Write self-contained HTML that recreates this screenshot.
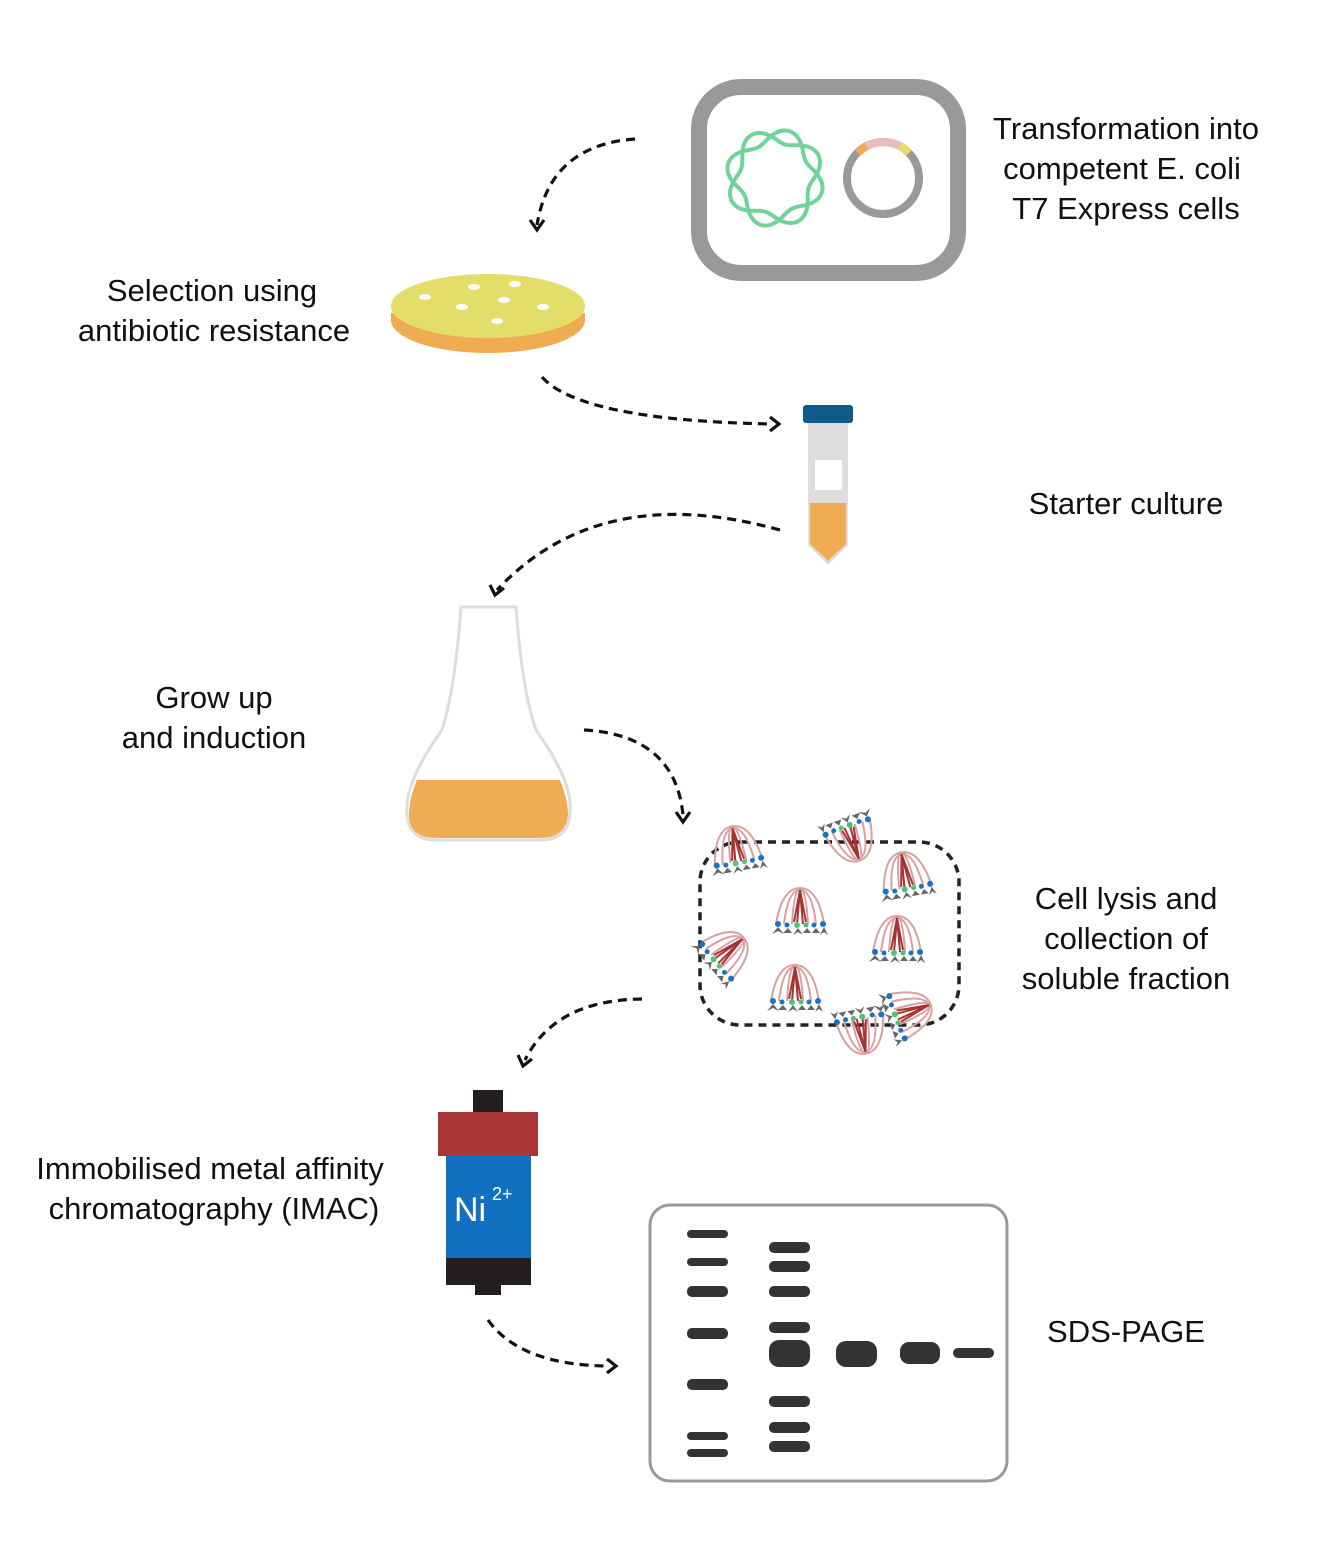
<!DOCTYPE html>
<html><head><meta charset="utf-8"><style>
body{margin:0;background:#fff}
svg{display:block}
text{font-family:"Liberation Sans",sans-serif;font-size:31px;fill:#111}
.d{fill:none;stroke:#111;stroke-width:3.2;stroke-dasharray:9 6}
.h{fill:none;stroke:#111;stroke-width:3.2}
.b{fill:#333}
</style></head><body>
<svg width="1326" height="1545" viewBox="0 0 1326 1545" xmlns="http://www.w3.org/2000/svg">
<defs>
<g id="p">
<path d="M-24 14 Q-18 -22 0 -22 Q18 -22 24 14 M-16 14 Q-12 -20 0 -20 Q12 -20 16 14 M-8 14 Q-6 -20 0 -22 Q6 -20 8 14" fill="none" stroke="#d9a0a0" stroke-width="2"/>
<path d="M-3 14 L0 -20 L3 14 M-6 12 L0 -20 L6 12" fill="none" stroke="#a83232" stroke-width="2"/>
<circle cx="-22" cy="14" r="3" fill="#1a73c4"/><circle cx="-13" cy="15" r="2.5" fill="#1a73c4"/><circle cx="-3" cy="15" r="3" fill="#4cc27a"/><circle cx="6" cy="15" r="2.5" fill="#4cc27a"/><circle cx="14" cy="15" r="2.5" fill="#1a73c4"/><circle cx="23" cy="14" r="3" fill="#1a73c4"/>
<path d="M-28 24 L-22 17 L-16 24 L-22 21Z M-17 23 L-12 18 L-8 23Z M-7 25 L-2 18 L3 25 L-2 22Z M3 23 L7 18 L11 23Z M12 23 L16 18 L20 23Z M20 25 L24 17 L28 25 L24 22Z" fill="#666"/>
</g>
</defs>

<rect x="699" y="87" width="259" height="186" rx="42" fill="none" stroke="#999" stroke-width="16"/>
<path id="fl1" fill="none" stroke="#72d39a" stroke-width="4"/>
<path id="fl2" fill="none" stroke="#72d39a" stroke-width="4"/>
<circle cx="883" cy="178" r="36" fill="none" stroke="#999" stroke-width="8"/>
<path d="M861 150 A36 36 0 0 1 907 151" fill="none" stroke="#e8bcbc" stroke-width="8"/>
<path d="M858 153 A36 36 0 0 1 866 146" fill="none" stroke="#f0ac52" stroke-width="8"/>
<path d="M900 146 A36 36 0 0 1 909 153" fill="none" stroke="#e3dd6a" stroke-width="8"/>
<text x="1126" y="139" text-anchor="middle">Transformation into</text>
<text x="1122" y="179" text-anchor="middle">competent E. coli</text>
<text x="1126" y="219" text-anchor="middle">T7 Express cells</text>

<path class="d" d="M635 139 Q550 145 537 225"/><path class="h" d="M530 220 L537 230 L544 220"/>

<path d="M391 313 L391 320 A97 33 0 0 0 585 320 L585 313Z" fill="#f0ac52"/>
<ellipse cx="488" cy="306" rx="97" ry="32" fill="#e3dd6a"/>
<g fill="#fff"><ellipse cx="425" cy="297" rx="6" ry="3"/><ellipse cx="474" cy="287" rx="6" ry="3"/><ellipse cx="515" cy="284" rx="6" ry="3"/><ellipse cx="504" cy="300" rx="6" ry="3"/><ellipse cx="462" cy="307" rx="6" ry="3"/><ellipse cx="543" cy="307" rx="6" ry="3"/><ellipse cx="497" cy="321" rx="6" ry="3"/></g>
<text x="212" y="301" text-anchor="middle">Selection using</text>
<text x="214" y="341" text-anchor="middle">antibiotic resistance</text>

<path class="d" d="M542 377 Q580 420 770 424"/><path class="h" d="M770 417 L779 424 L770 431"/>

<path d="M808 420 L848 420 L848 545 L828 565 L808 545Z" fill="#ddd"/>
<path d="M810 503 L846 503 L846 544 L828 561 L810 544Z" fill="#f0ac52"/>
<rect x="815" y="460" width="27" height="30" fill="#fff"/>
<rect x="803" y="405" width="50" height="18" rx="3" fill="#0e5a8a"/>
<text x="1126" y="514" text-anchor="middle">Starter culture</text>

<path class="d" d="M780 530 Q600 480 497 590"/><path class="h" d="M490 585 L495 595 L504 588"/>

<path d="M461 607 L516 607 Q522 690 536 730 Q572 780 570 810 Q570 840 540 840 L436 840 Q406 840 407 810 Q406 780 442 730 Q455 690 461 607Z" fill="#fff" stroke="#ddd" stroke-width="3"/>
<path d="M417 780 L560 780 Q568 800 568 815 Q566 838 540 838 L436 838 Q409 838 409 815 Q409 798 417 780Z" fill="#f0ac52"/>
<text x="214" y="708" text-anchor="middle">Grow up</text>
<text x="214" y="748" text-anchor="middle">and induction</text>

<path class="d" d="M584 730 Q675 735 683 815"/><path class="h" d="M676 812 L683 822 L690 812"/>

<rect x="700" y="842" width="259" height="183" rx="40" fill="none" stroke="#222" stroke-width="3.5" stroke-dasharray="8 6"/>
<use href="#p" x="736" y="848" transform="rotate(-10 736 848)"/>
<use href="#p" x="852" y="840" transform="rotate(160 852 840)"/>
<use href="#p" x="905" y="874" transform="rotate(-10 905 874)"/>
<use href="#p" x="800" y="910"/>
<use href="#p" x="897" y="938"/>
<use href="#p" x="727" y="952" transform="rotate(50 727 952)"/>
<use href="#p" x="795" y="987"/>
<use href="#p" x="910" y="1012" transform="rotate(70 910 1012)"/>
<use href="#p" x="862" y="1032" transform="rotate(170 862 1032)"/>
<text x="1126" y="909" text-anchor="middle">Cell lysis and</text>
<text x="1126" y="949" text-anchor="middle">collection of</text>
<text x="1126" y="989" text-anchor="middle">soluble fraction</text>

<path class="d" d="M642 999 Q555 1000 525 1060"/><path class="h" d="M518 1055 L523 1066 L532 1059"/>

<rect x="473" y="1090" width="30" height="24" fill="#231f20"/>
<rect x="438" y="1112" width="100" height="44" fill="#a83636"/>
<rect x="446" y="1155" width="85" height="104" fill="#1170bf"/>
<rect x="446" y="1258" width="85" height="27" fill="#231f20"/>
<rect x="475" y="1284" width="26" height="11" fill="#231f20"/>
<text x="454" y="1221" style="fill:#fff;font-size:34px">Ni</text>
<text x="492" y="1200" style="fill:#fff;font-size:18px">2+</text>
<text x="210" y="1179" text-anchor="middle">Immobilised metal affinity</text>
<text x="214" y="1219" text-anchor="middle">chromatography (IMAC)</text>

<path class="d" d="M488 1320 Q520 1365 608 1366"/><path class="h" d="M607 1359 L616 1366 L607 1373"/>

<rect x="650" y="1205" width="357" height="276" rx="20" fill="#fff" stroke="#999" stroke-width="3"/>
<g class="b">
<rect x="687" y="1230" width="41" height="8" rx="4"/><rect x="687" y="1258" width="41" height="8" rx="4"/><rect x="687" y="1286" width="41" height="11" rx="5"/><rect x="687" y="1328" width="41" height="11" rx="5"/><rect x="687" y="1379" width="41" height="11" rx="5"/><rect x="687" y="1432" width="41" height="8" rx="4"/><rect x="687" y="1449" width="41" height="8" rx="4"/>
<rect x="769" y="1242" width="41" height="11" rx="5"/><rect x="769" y="1261" width="41" height="11" rx="5"/><rect x="769" y="1286" width="41" height="11" rx="5"/><rect x="769" y="1322" width="41" height="11" rx="5"/><rect x="769" y="1340" width="41" height="27" rx="10"/><rect x="769" y="1396" width="41" height="11" rx="5"/><rect x="769" y="1422" width="41" height="11" rx="5"/><rect x="769" y="1441" width="41" height="11" rx="5"/>
<rect x="836" y="1341" width="41" height="26" rx="10"/><rect x="900" y="1342" width="40" height="22" rx="9"/><rect x="953" y="1348" width="41" height="10" rx="5"/>
</g>
<text x="1126" y="1342" text-anchor="middle">SDS-PAGE</text>
</svg>
<script>
function f(id,ph){var d="",cx=775,cy=178;for(var i=0;i<=360;i+=2){var t=i*Math.PI/180;var r=42+7*Math.sin(4*t+ph);d+=(i?"L":"M")+(cx+r*Math.cos(t)).toFixed(1)+" "+(cy+r*Math.sin(t)).toFixed(1);}document.getElementById(id).setAttribute("d",d+"Z");}
f("fl1",0.4);f("fl2",0.4+Math.PI);
</script>
</body></html>
